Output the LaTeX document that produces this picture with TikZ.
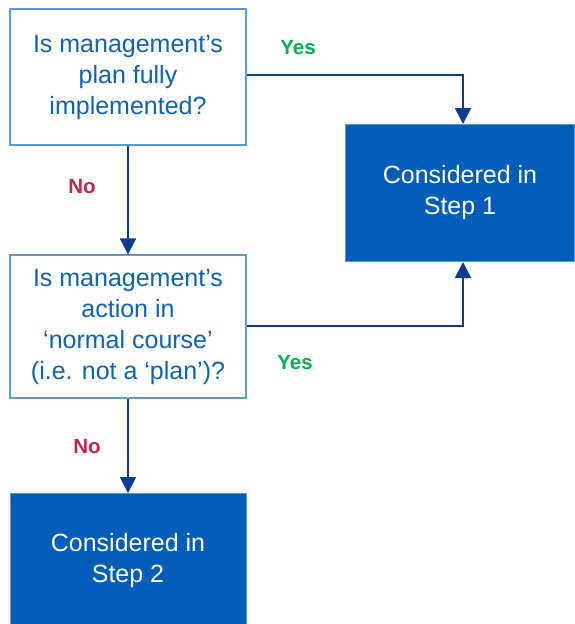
\documentclass[tikz,border=0pt]{standalone}
\usepackage{fontspec}
\setmainfont{Liberation Sans}
\usetikzlibrary{arrows.meta}
\definecolor{boxblue}{HTML}{005EB8}
\definecolor{txtblue}{HTML}{0F62B4}
\definecolor{edgeblue}{HTML}{5B9BD5}
\definecolor{arrblue}{HTML}{0A3D91}
\definecolor{yesgreen}{HTML}{00B050}
\definecolor{nored}{HTML}{C0264A}
\tikzset{
  qbox/.style={draw=edgeblue, line width=1.2pt, fill=white, text=txtblue, align=center,
    font=\fontsize{25}{31}\selectfont, inner sep=0pt},
  rbox/.style={draw=edgeblue, line width=1pt, fill=boxblue, text=white, align=center,
    font=\fontsize{25}{31}\selectfont, inner sep=0pt},
  conn/.style={draw=arrblue, line width=1.8pt, -{Triangle[length=16pt,width=16pt]}},
  yeslbl/.style={text=yesgreen, font=\fontsize{20.5}{24}\selectfont\bfseries},
  nolbl/.style={text=nored, font=\fontsize{20.5}{24}\selectfont\bfseries}
}
\begin{document}
\begin{tikzpicture}[x=1pt,y=-1pt]
\useasboundingbox (0,0) rectangle (574,624);
\node[qbox, minimum width=236pt, minimum height=136pt] (q1) at (128,77)
  {Is management’s\\plan fully\\implemented?};
\node[rbox, minimum width=229pt, minimum height=137pt, anchor=north west] (s1) at (345,124)
  {Considered in\\Step 1};
\node[qbox, minimum width=236pt, minimum height=143pt] (q2) at (128,326.5)
  {Is management’s\\action in\\‘normal course’\\(i.e. not a ‘plan’)?};
\node[rbox, minimum width=236pt, minimum height=135pt, anchor=north] (s2) at (128,493)
  {Considered in\\Step 2};
\coordinate (c1) at (463,75);
\coordinate (c2) at (463,326);
\draw[conn] (q1.east |- c1) -- (c1) -- (s1.north -| c1);
\draw[conn] (q1.south) -- (q2.north);
\draw[conn] (q2.east |- c2) -- (c2) -- (s1.south -| c2);
\draw[conn] (q2.south) -- (s2.north);
\node[yeslbl] (y1) at (298,48) {Yes};
\node[yeslbl] (y2) at (295,363) {Yes};
\node[nolbl] (n1) at (82,187) {No};
\node[nolbl] (n2) at (87,447) {No};
\end{tikzpicture}
\end{document}
